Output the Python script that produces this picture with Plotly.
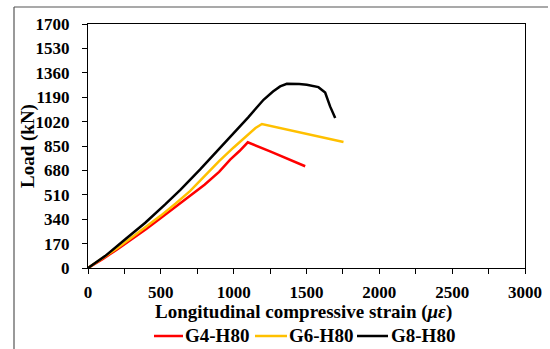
import plotly.graph_objects as go

# G4-H80 (red)
g4_strain = [0, 50, 100, 200, 300, 400, 500, 600, 700, 800, 900, 976, 1040, 1097, 1250, 1491]
g4_load = [0, 30, 62, 130, 200, 272, 348, 425, 500, 580, 670, 755, 815, 876, 812, 709]

# G6-H80 (yellow)
g6_strain = [0, 50, 100, 200, 300, 400, 500, 600, 700, 800, 900, 1000, 1100, 1150, 1194, 1400, 1754]
g6_load = [0, 33, 68, 138, 212, 288, 365, 448, 535, 640, 745, 840, 930, 975, 1003, 958, 878]

# G8-H80 (black)
g8_strain = [0, 50, 117, 256, 393, 530, 634, 770, 900, 1000, 1100, 1205, 1270, 1319, 1365, 1450, 1502, 1582, 1628, 1662, 1697]
g8_load = [0, 35, 83, 200, 315, 443, 545, 687, 830, 935, 1050, 1172, 1230, 1265, 1283, 1282, 1277, 1260, 1223, 1126, 1045]

series_names = ["G4-H80", "G6-H80", "G8-H80"]
series_colors = ["#FF0000", "#FFC000", "#000000"]

x_ticks = [0, 500, 1000, 1500, 2000, 2500, 3000]
y_ticks = [0, 170, 340, 510, 680, 850, 1020, 1190, 1360, 1530, 1700]

font_family = "Times New Roman, Liberation Serif, serif"

# plot area in pixels: left 88, right 525, top 24, bottom 268
L, R, T, B = 88, 525, 24, 268
PW, PH = R - L, B - T


def px(xp):
    return (xp - L) / PW


def py(yp):
    return (B - yp) / PH


fig = go.Figure()
for xs, ys, nm, col in zip([g4_strain, g6_strain, g8_strain], [g4_load, g6_load, g8_load],
                           series_names, series_colors):
    fig.add_trace(go.Scatter(x=xs, y=ys, mode="lines", name=nm, showlegend=False,
                             line=dict(color=col, width=2.5)))

# manual legend (Excel style: line touching the text)
legend_line_x = [(154, 183), (255, 287), (357, 388)]
legend_text_x = [183, 287, 389]
shapes = []
annotations = []
for (x0, x1), tx, nm, col in zip(legend_line_x, legend_text_x, series_names, series_colors):
    shapes.append(dict(type="line", xref="paper", yref="paper", x0=px(x0), x1=px(x1),
                       y0=py(336), y1=py(336), line=dict(color=col, width=2.5)))
    annotations.append(dict(text=f"<b>{nm}</b>", xref="paper", yref="paper", x=px(tx), y=py(335),
                            xanchor="left", yanchor="middle", showarrow=False,
                            font=dict(size=19, family=font_family, color="black")))

# outer frame (top and left edges visible)
shapes.append(dict(type="line", xref="paper", yref="paper", x0=px(14), x1=px(548), y0=py(7), y1=py(7),
                   line=dict(color="#555555", width=1.2)))
shapes.append(dict(type="line", xref="paper", yref="paper", x0=px(14), x1=px(14), y0=py(7), y1=py(352),
                   line=dict(color="#555555", width=1.2)))

# axis titles
annotations.append(dict(text="<b>Longitudinal compressive strain (<i>με</i>)</b>", xref="paper", yref="paper",
                        x=px(303), y=py(311.5), xanchor="center", yanchor="middle", showarrow=False,
                        font=dict(size=19, family=font_family, color="black")))
annotations.append(dict(text="<b>Load (kN)</b>", xref="paper", yref="paper", textangle=-90,
                        x=px(28), y=py(146), xanchor="center", yanchor="middle", showarrow=False,
                        font=dict(size=19, family=font_family, color="black")))

fig.update_layout(
    width=550, height=349,
    margin=dict(l=L, r=550 - R, t=T, b=349 - B),
    paper_bgcolor="white", plot_bgcolor="white",
    font=dict(family=font_family, color="black", size=17),
    showlegend=False,
    xaxis=dict(range=[0, 3000], tickvals=x_ticks, ticktext=[f"<b>{v}</b>" for v in x_ticks],
               showgrid=False, zeroline=False, showline=True, linecolor="black", linewidth=1.3,
               mirror=True, ticks="outside", ticklen=5, tickcolor="black", automargin=False,
               minor=dict(dtick=250, ticks="outside", ticklen=5, tickcolor="black"),
               tickfont=dict(size=17), ticklabelstandoff=3),
    yaxis=dict(range=[0, 1700], tickvals=y_ticks, ticktext=[f"<b>{v}</b>" for v in y_ticks],
               showgrid=False, zeroline=False, showline=True, linecolor="black", linewidth=1.3,
               mirror=True, ticks="outside", ticklen=5, tickcolor="black", automargin=False,
               tickfont=dict(size=17), ticklabelstandoff=9),
    shapes=shapes,
    annotations=annotations,
)

fig.write_html("out.html", config={"displayModeBar": False},
               post_script="document.body.style.margin='0';")
